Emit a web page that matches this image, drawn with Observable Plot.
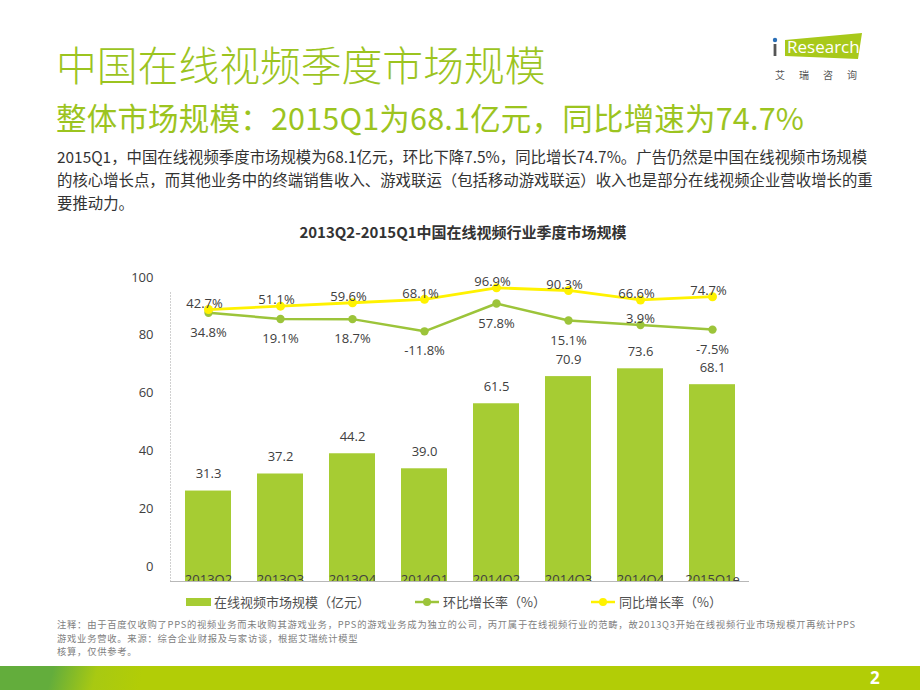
<!DOCTYPE html>
<html>
<head>
<meta charset="utf-8">
<script src="https://cdn.jsdelivr.net/npm/d3@7"></script>
<script src="https://cdn.jsdelivr.net/npm/@observablehq/plot@0.6"></script>
<style>
  html, body { margin: 0; padding: 0; background: #fff; }
  #page { position: relative; width: 920px; height: 690px; overflow: hidden; background: #fff;
          font-family: "Noto Sans CJK SC", "Noto Sans", sans-serif; }
  .abs { position: absolute; white-space: nowrap; }
  #title { left: 56px; top: 38px; font-size: 40.8px; line-height: 52px; color: #9cc41f; font-weight: 300; }
  #subtitle { left: 56px; top: 98px; font-size: 30.5px; line-height: 38px; color: #9cc41f; letter-spacing: 0.2px; }
  #body { left: 57px; top: 145px; font-size: 15.4px; line-height: 23px; color: #333; }
  #ctitle { left: 0; width: 926px; text-align: center; top: 220px; font-size: 15px; font-weight: 700; color: #333; line-height: 24px; }
  #chart { left: 0; top: 265px; width: 920px; height: 317px; overflow: hidden; }
  #legend { left: 0; top: 592px; width: 920px; height: 20px; font-size: 13px; color: #505050; }
  .leg { position: absolute; top: 0; line-height: 20px; }
  #foot { left: 57px; top: 618px; font-size: 9.3px; line-height: 13.5px; letter-spacing: 0.75px; color: #808080; }
  #band { left: 0; top: 666px; width: 920px; height: 24px;
          background: linear-gradient(105deg, #63ad3c 0px, #63ad3c 52px, #a8c912 95px, #b2cd06 140px, #b2cd06 100%); }
  #pnum { left: 870px; top: 666px; font-size: 17px; line-height: 24px; color: #fff; font-weight: 700; font-family: "Open Sans", sans-serif; }
</style>
</head>
<body>
<div id="page">
  <div id="title" class="abs">中国在线视频季度市场规模</div>
  <div id="subtitle" class="abs">整体市场规模：2015Q1为68.1亿元，同比增速为74.7%</div>
  <div id="body" class="abs">2015Q1，中国在线视频季度市场规模为68.1亿元，环比下降7.5%，同比增长74.7%。广告仍然是中国在线视频市场规模<br>的核心增长点，而其他业务中的终端销售收入、游戏联运（包括移动游戏联运）收入也是部分在线视频企业营收增长的重<br>要推动力。</div>
  <div id="ctitle" class="abs">2013Q2-2015Q1中国在线视频行业季度市场规模</div>

  <svg class="abs" style="left:765px;top:28px" width="110" height="56" viewBox="0 0 110 56">
    <polygon points="20,12 97,5 93,31 20,28" fill="#a8c91a"/>
    <circle cx="10" cy="12" r="2.2" fill="#2a6fb7"/>
    <rect x="8.6" y="16" width="2.8" height="12" fill="#555"/>
    <text x="22" y="25" font-family="Open Sans, sans-serif" font-size="17" fill="#fff">Research</text>
    <text x="10" y="51" font-family="Noto Sans CJK SC" font-size="10" fill="#555" letter-spacing="14">艾瑞咨询</text>
  </svg>

  <div id="chart" class="abs"></div>

  <div id="legend" class="abs">
    <div class="leg" style="left:186px;"><span style="display:inline-block;width:25px;height:8px;background:#a6cc33;vertical-align:middle;margin-right:3px;position:relative;top:-1px"></span>在线视频市场规模（亿元）</div>
    <div class="leg" style="left:414px;"><svg width="26" height="12" style="vertical-align:middle;margin-right:3px;position:relative;top:-1px"><line x1="1" y1="6" x2="25" y2="6" stroke="#9cc43a" stroke-width="2.5"/><circle cx="13" cy="6" r="4" fill="#9cc43a"/></svg>环比增长率（%）</div>
    <div class="leg" style="left:590px;"><svg width="26" height="12" style="vertical-align:middle;margin-right:3px;position:relative;top:-1px"><line x1="1" y1="6" x2="25" y2="6" stroke="#fff200" stroke-width="2.5"/><circle cx="13" cy="6" r="4" fill="#fff200"/></svg>同比增长率（%）</div>
  </div>

  <div id="foot" class="abs">注释：由于百度仅收购了PPS的视频业务而未收购其游戏业务，PPS的游戏业务成为独立的公司，丙丌属于在线视频行业的范畴，故2013Q3开始在线视频行业市场规模丌再统计PPS<br>游戏业务营收。来源：综合企业财报及与家访谈，根据艾瑞统计模型<br>核算，仅供参考。</div>

  <div id="band" class="abs"></div>
  <div id="pnum" class="abs">2</div>
</div>

<script>
// ---- Data ----
const quarters   = ["2013Q2", "2013Q3", "2013Q4", "2014Q1", "2014Q2", "2014Q3", "2014Q4", "2015Q1e"];
const marketSize = [31.3, 37.2, 44.2, 39.0, 61.5, 70.9, 73.6, 68.1];      // 亿元
const qoqGrowth  = [34.8, 19.1, 18.7, -11.8, 57.8, 15.1, 3.9, -7.5];      // 环比 %
const yoyGrowth  = [42.7, 51.1, 59.6, 68.1, 96.9, 90.3, 66.6, 74.7];      // 同比 %
const yTicks     = [0, 20, 40, 60, 80, 100];

// ---- Styles ----
const barColor = "#a6cc33";
const qoqColor = "#9cc43a";
const yoyColor = "#fff200";
const textColor = "#404040";

const rows = quarters.map((q, i) => ({q, size: marketSize[i], qoq: qoqGrowth[i], yoy: yoyGrowth[i]}));

// Secondary (hidden) percentage axis, mapped onto the primary y domain (dual-axis chart)
const rateY = d3.scaleLinear().domain([-20, 100]).range([85.43, 102.04]);

const fmtPct = v => v.toFixed(1) + "%";

// label placement rule: 环比 labels sit below their point unless they would collide with the bar's value label
const pxPerUnit = (316 - 27) / 100;
const barLabelDy = -17, qoqBelowDy = 20, qoqAboveDy = -6;
const collides = d => Math.abs((d.size - barLabelDy / pxPerUnit) - (rateY(d.qoq) - qoqBelowDy / pxPerUnit)) < 15 / pxPerUnit;

const chart = Plot.plot({
  width: 920,
  height: 317,
  marginLeft: 170,
  marginRight: 171,
  marginTop: 27,
  marginBottom: 1,
  style: {fontFamily: "'Open Sans', sans-serif", fontSize: "13px", color: textColor, background: "transparent", overflow: "hidden"},
  x: {type: "band", domain: quarters, paddingInner: 0.365, paddingOuter: 0.1825},
  y: {domain: [0, 100]},
  marks: [
    Plot.frame({anchor: "left", stroke: "#d0d0d0", strokeDasharray: "1,2"}),
    Plot.barY(rows, {x: "q", y: "size", fill: barColor}),
    Plot.axisX({tickSize: 0, tickPadding: 3, dy: -10, fontSize: 13, label: null}),
    Plot.ruleY([0], {stroke: "#b8b8b8", strokeWidth: 1}),
    Plot.axisY({ticks: yTicks, tickSize: 0, tickPadding: 17, dy: -15, fontSize: 13, label: null}),
    Plot.text(rows, {x: "q", y: "size", text: d => d.size.toFixed(1), dy: barLabelDy, fontSize: 13, fill: textColor}),
    Plot.line(rows, {x: "q", y: d => rateY(d.qoq), stroke: qoqColor, strokeWidth: 2.5}),
    Plot.dot(rows, {x: "q", y: d => rateY(d.qoq), r: 4.2, fill: qoqColor}),
    Plot.line(rows, {x: "q", y: d => rateY(d.yoy), stroke: yoyColor, strokeWidth: 2.8}),
    Plot.dot(rows, {x: "q", y: d => rateY(d.yoy), r: 4.5, fill: yoyColor}),
    Plot.text(rows.filter(d => !collides(d)), {x: "q", y: d => rateY(d.qoq), text: d => fmtPct(d.qoq), dy: qoqBelowDy, fontSize: 13, fill: textColor}),
    Plot.text(rows.filter(collides), {x: "q", y: d => rateY(d.qoq), text: d => fmtPct(d.qoq), dy: qoqAboveDy, fontSize: 13, fill: textColor}),
    Plot.text(rows, {x: "q", y: d => rateY(d.yoy), text: d => fmtPct(d.yoy), dy: -6, dx: -4, fontSize: 13, fill: textColor})
  ]
});
document.getElementById("chart").appendChild(chart);
</script>
</body>
</html>
